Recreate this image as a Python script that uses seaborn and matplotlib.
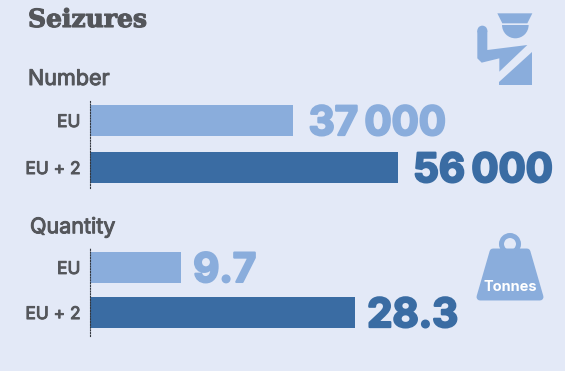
import numpy as np
import pandas as pd
import matplotlib
matplotlib.use('Agg')
import matplotlib.pyplot as plt
import matplotlib.patheffects as pe
import seaborn as sns
from matplotlib.patches import Polygon, Circle, Wedge

title = 'Seizures'
categories = ['EU', 'EU + 2']
number_values = [37000, 56000]
number_labels = ['37\u2009000', '56\u2009000']
quantity_values = [9.7, 28.3]
quantity_labels = ['9.7', '28.3']

BG = '#e3e9f7'
LIGHT = '#8aaddc'
DARK = '#3a6ca3'
GREY = '#54565b'
W, H = 565, 371

sns.set_theme(style='white')
plt.rcParams['font.family'] = ['Inter', 'DejaVu Sans']

fig = plt.figure(figsize=(W / 100, H / 100), dpi=100, facecolor=BG)


def bar_panel(top, bottom, values, labels, xmax, width, ylim, gap):
    ax = fig.add_axes([90 / W, 1 - bottom / H, (W - 90) / W, (bottom - top) / H])
    df = pd.DataFrame({'cat': categories, 'val': values})
    sns.barplot(data=df, x='val', y='cat', hue='cat', palette=[LIGHT, DARK],
                width=width, legend=False, ax=ax, saturation=1, linewidth=0)
    ax.set_xlim(0, xmax)
    ax.set_ylim(*ylim)
    ax.patch.set_alpha(0)
    ax.set_xlabel('')
    ax.set_ylabel('')
    ax.set_xticks([])
    ax.tick_params(axis='y', length=0, pad=7, labelsize=12.5, labelcolor=GREY)
    for t in ax.get_yticklabels():
        t.set_path_effects([pe.withStroke(linewidth=0.7, foreground=GREY)])
    for s in ['top', 'right', 'bottom']:
        ax.spines[s].set_visible(False)
    ax.spines['left'].set_color('#34383f')
    ax.spines['left'].set_linewidth(0.8)
    ax.spines['left'].set_linestyle((0, (1, 1.5)))
    for i, (v, lab) in enumerate(zip(values, labels)):
        c = [LIGHT, DARK][i]
        ax.annotate(lab, (v, i), xytext=(gap, 0), textcoords='offset points',
                    va='center_baseline', ha='left', fontsize=29, fontweight='bold',
                    color=c, path_effects=[pe.withStroke(linewidth=1.6, foreground=c)])
    return ax


bar_panel(101, 188, number_values, number_labels, 86400, 0.66, (1.436, -0.415), 11)
bar_panel(248, 336, quantity_values, quantity_labels, 50.8, 0.69, (1.52, -0.43), 9)

# overlay in pixel coords for headings and icons
ov = fig.add_axes([0, 0, 1, 1])
ov.set_xlim(0, W)
ov.set_ylim(H, 0)
ov.axis('off')
ov.patch.set_alpha(0)
ov.text(28, 20, title, fontsize=18, fontweight='bold', family='DejaVu Serif', color=GREY, va='center',
        path_effects=[pe.withStroke(linewidth=0.8, foreground=GREY)])
head_fx = [pe.withStroke(linewidth=0.7, foreground=GREY)]
ov.text(28, 79, 'Number', fontsize=15.5, color=GREY, va='center', path_effects=head_fx)
ov.text(30, 227, 'Quantity', fontsize=15.5, color=GREY, va='center', path_effects=head_fx)


def zoomed(pts, x0, y0):
    return [(x0 + a / 3, y0 + b / 3) for a, b in pts]


# officer icon
for pts in [
    [(172, 40), (277, 40), (262, 70), (187, 70)],
    [(112, 92), (142, 92), (142, 150), (262, 135), (178, 215), (178, 175), (125, 188), (112, 175)],
    [(275, 155), (275, 255), (178, 255), (178, 245)],
]:
    ov.add_patch(Polygon(zoomed(pts, 440, 0), closed=True, fc=LIGHT, ec='none'))
ov.add_patch(Circle((440 + 127 / 3, 92 / 3), 5, fc=LIGHT, ec='none'))
ov.add_patch(Wedge((440 + 226 / 3, 75 / 3), 13.3, 0, 180, fc=LIGHT, ec='none'))

# weight icon
ov.add_patch(Circle((510, 244), 8.5, fc='none', ec=LIGHT, lw=3.6))
ov.add_patch(Polygon([(493, 252), (527, 252), (540, 297), (480, 297)], closed=True,
                     fc=LIGHT, ec=LIGHT, lw=5, joinstyle='round'))
ov.text(510, 287, 'Tonnes', fontsize=10.5, fontweight='bold', color='white', ha='center', va='center')

fig.savefig('out.png', dpi=100, facecolor=BG)
